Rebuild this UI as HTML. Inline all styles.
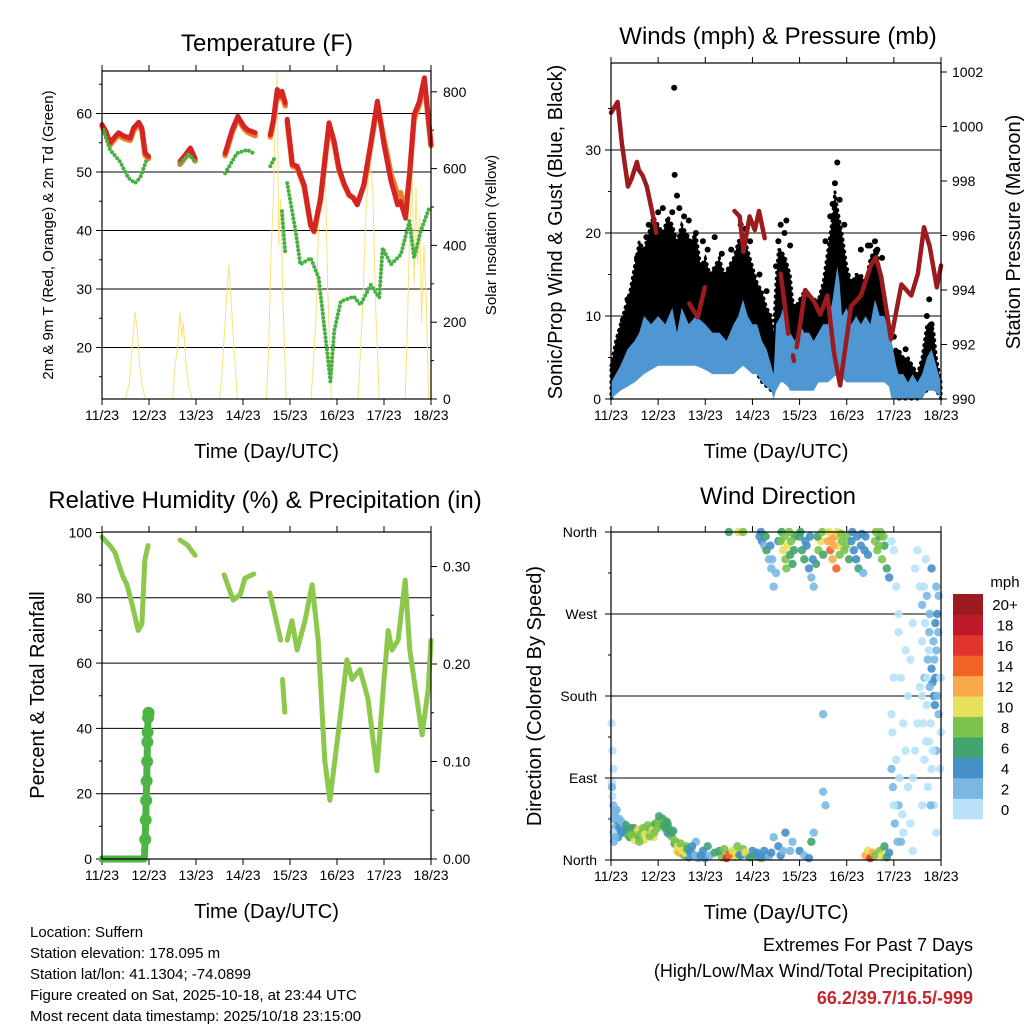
<!DOCTYPE html>
<html><head><meta charset="utf-8"><style>
html,body{margin:0;padding:0;background:#fff;}
svg{display:block;font-family:"Liberation Sans",Arial,sans-serif;}
</style></head><body>
<svg id="c" width="1024" height="1024" viewBox="0 0 1024 1024" xmlns="http://www.w3.org/2000/svg">
<rect width="1024" height="1024" fill="#fff"/>
<g id="layer"></g>
<text x="30" y="937" font-size="15">Location: Suffern</text>
<text x="30" y="958" font-size="15">Station elevation: 178.095 m</text>
<text x="30" y="979" font-size="15">Station lat/lon: 41.1304; -74.0899</text>
<text x="30" y="1000" font-size="15">Figure created on Sat, 2025-10-18, at 23:44 UTC</text>
<text x="30" y="1021" font-size="15">Most recent data timestamp: 2025/10/18 23:15:00</text>
<text x="973" y="951" font-size="18" text-anchor="end">Extremes For Past 7 Days</text>
<text x="973" y="977" font-size="18" text-anchor="end">(High/Low/Max Wind/Total Precipitation)</text>
<text x="973" y="1004" font-size="18" font-weight="bold" fill="#c4262e" text-anchor="end">66.2/39.7/16.5/-999</text>
</svg>
<script>
const dayLabels=["11/23","12/23","13/23","14/23","15/23","16/23","17/23","18/23"];
// Temperature (F)
const temp2m=[[[0,58.1],[0.08,57],[0.17,55],[0.25,55.8],[0.35,56.7],[0.45,56.2],[0.6,55.8],[0.67,57.5],[0.78,58.5],[0.85,57.5],[0.92,53.2],[0.99,52.7]],
[[1.66,51.8],[1.78,53],[1.88,54.1],[1.98,52.3]],
[[2.62,53.2],[2.77,57.2],[2.89,59.5],[3.02,57.8],[3.1,57.2],[3.26,56.7]],
[[3.58,56.4],[3.65,59],[3.73,64.1],[3.78,63],[3.83,63.8],[3.9,61.8]],
[[3.94,59],[4.05,51.3],[4.15,51],[4.3,47.8],[4.44,41],[4.51,39.9],[4.65,45.6],[4.83,58.4],[4.94,55.2],[5.04,50.7],[5.15,48],[5.26,46.1],[5.35,45.5],[5.43,44.4],[5.57,47.8],[5.7,54],[5.86,62.1],[6.0,54.7],[6.15,48.4],[6.22,46.5],[6.29,44.4],[6.35,45],[6.46,42.1],[6.55,50],[6.64,59.8],[6.75,62],[6.86,66.1],[7.0,54.7]]];
const temp9m=[[[0,57.8],[0.08,56.6],[0.17,54.6],[0.25,55.4],[0.35,56.3],[0.45,55.8],[0.6,55.4],[0.67,57.1],[0.78,58.1],[0.85,57.1],[0.92,52.8],[0.99,52.3]],
[[1.66,51.3],[1.78,52.6],[1.88,53.7],[1.98,51.9]],
[[2.62,52.8],[2.77,56.8],[2.89,59.1],[3.02,57.4],[3.1,56.8],[3.26,56.2]],
[[3.58,56],[3.65,58.6],[3.73,63.6],[3.78,62.6],[3.83,63.3],[3.9,61.3]],
[[3.94,58.6],[4.05,51],[4.15,50.7],[4.3,47.5],[4.44,40.8],[4.51,39.8],[4.65,45.3],[4.83,58],[4.94,54.8],[5.04,50.4],[5.15,47.8],[5.26,46],[5.35,45.6],[5.43,44.5],[5.57,47.6],[5.7,53.6],[5.86,61.5],[6.0,55.5],[6.15,49.5],[6.22,48],[6.29,46],[6.35,46.5],[6.46,43.2],[6.55,50],[6.64,59],[6.75,61.5],[6.86,65.5],[7.0,54.5]]];
const dewpoint=[[[0.03,57.2],[0.17,53.8],[0.38,51.8],[0.56,49],[0.7,48.1],[0.81,49],[0.95,52.1]],
[[1.66,51.5],[1.84,53],[1.98,51.8]],
[[2.62,49.8],[2.87,53.2],[3.09,53.8],[3.26,53]],
[[3.58,51],[3.69,52.7]],
[[3.83,43.3],[3.9,35.9]],
[[3.94,48.1],[4.12,39.9],[4.22,34.2],[4.44,35.3],[4.61,31.9],[4.79,19.3],[4.86,14.2],[4.94,22.8],[5.08,27.9],[5.36,28.7],[5.5,27.3],[5.72,30.7],[5.9,28.5],[5.97,37],[6.15,34.2],[6.36,35.9],[6.54,41.6],[6.64,35.3],[6.78,39.9],[6.96,43.8]]];
const solar=[[0,0],[0.5,0],[0.58,40],[0.65,150],[0.7,226],[0.75,180],[0.8,90],[0.85,40],[0.92,0],[1.5,0],[1.55,80],[1.62,150],[1.66,226],[1.7,160],[1.73,200],[1.78,100],[1.85,30],[1.92,0],[2.5,0],[2.55,60],[2.62,200],[2.67,300],[2.7,350],[2.75,250],[2.8,150],[2.88,0],[3.5,0],[3.55,150],[3.6,400],[3.64,500],[3.68,700],[3.73,855],[3.76,400],[3.8,520],[3.85,250],[3.92,0],[4.45,0],[4.55,200],[4.62,500],[4.7,640],[4.76,550],[4.8,300],[4.88,0],[5.45,0],[5.55,250],[5.62,500],[5.7,620],[5.76,550],[5.82,250],[5.9,0],[6.45,0],[6.5,200],[6.55,450],[6.6,580],[6.64,300],[6.68,550],[6.72,350],[6.76,480],[6.8,200],[6.85,400],[6.9,250],[6.95,0],[7,0]];
// Winds & pressure
const pressure=[[[0,1000.5],[0.14,1000.9],[0.23,999.4],[0.36,997.8],[0.44,998.1],[0.55,998.7],[0.59,998.4],[0.67,998.2],[0.76,997.8],[0.87,996.9],[0.96,996.1]],
[[1.66,993.5],[1.84,993],[1.99,994.1]],
[[2.62,996.9],[2.73,996.7],[2.81,995.4],[2.94,996.7],[3.05,996.2],[3.14,996.9],[3.26,995.9]],
[[3.6,994.6],[3.76,992.4]],
[[3.86,991.6],[3.88,991.4]],
[[3.94,991.9],[4.12,994],[4.3,993.6],[4.44,993.1],[4.59,993.8],[4.73,991.7],[4.86,990.5],[4.98,992],[5.09,993.4],[5.3,993.8],[5.51,994.9],[5.62,995.2],[5.73,994.5],[5.94,992.2],[6.16,994.2],[6.37,993.8],[6.51,994.6],[6.64,996.3],[6.76,995.6],[6.91,994.1],[7.0,994.9]]];
const windDays=[0,0.1,0.2,0.35,0.5,0.6,0.7,0.85,1.0,1.15,1.3,1.4,1.5,1.65,1.8,2.0,2.15,2.3,2.45,2.6,2.7,2.8,2.9,3.0,3.1,3.2,3.3,3.4,3.45,3.5,3.6,3.65,3.75,3.8,3.9,4.0,4.1,4.2,4.3,4.4,4.5,4.6,4.7,4.8,4.85,4.9,5.0,5.1,5.2,5.3,5.4,5.5,5.6,5.7,5.8,5.9,5.95,6.05,6.1,6.2,6.3,6.4,6.5,6.6,6.7,6.8,6.85,6.95,7.0];
const windLow=[0,0.5,1,1.5,2,2.5,3,3.5,4,4,4,4,4,4,4,3.5,3,3,3,3,3.5,4,3.5,3,3,2,1.5,1,0,1,2,2,1.5,1,1,1,1,1,1,2,2,2,2.5,3,3,2.5,2,2,2,2,2,2,2,2,2,1.5,0,0,0,0,0,0,0,0,1,1,1,0.5,0];
const windHigh=[2,3,4,6,7,8,10,9,10,9,11,8,11,9,10,9,8,8,7,9,10,12,10,9,9,7,6,4,3,9,10,11,8,8,7,9,8,8,7,8,9,9,12,16,14,10,11,9,10,9,10,9,12,10,10,8,7,4,3,3,2,3,2,3,5,6,5,3,2];
const gustDays=[0,0.1,0.2,0.3,0.4,0.5,0.6,0.7,0.8,0.9,1.0,1.1,1.2,1.3,1.4,1.5,1.6,1.7,1.8,1.9,2.0,2.1,2.2,2.3,2.4,2.5,2.6,2.7,2.8,2.9,3.0,3.1,3.2,3.3,3.4,3.45,3.5,3.55,3.6,3.7,3.8,3.85,3.9,4.0,4.1,4.2,4.3,4.4,4.5,4.6,4.7,4.75,4.8,4.9,5.0,5.1,5.2,5.3,5.4,5.5,5.6,5.65,5.7,5.8,5.9,5.95,6.0,6.1,6.2,6.3,6.4,6.5,6.6,6.7,6.8,6.85,6.9,7.0];
const gustLow=[0,1,2,2,3,4,5,6,7,6,6,7,7,7,6,6,6,6,6,5,4,4,5,5,5,6,6,7,6,5,4,3,2,1.5,1,1,2,4,4,3,3,2,2,3,3,3,3,3,3,4,6,8,8,6,5,4,4,4,4,5,5,5,5,4,2,1,0.5,0,0,0,0,0,0.5,1,2,2,1,0];
const gustHigh=[4,7,9,11,13,16,19,18,20,22,21,20,22,21,19,21,20,19,20,16,17,15,16,17,15,16,17,19,20,18,16,14,13,11,10,8,14,18,18,17,15,12,11,12,13,12,12,12,14,18,22,25,23,20,16,14,15,15,14,17,18,18,15,12,8,6,6,6,5,5,4,3,5,9,9,8,5,2];
const gustOutliers=[[1.34,37.5],[1.35,27],[1.55,22],[1.8,20],[4.8,28.5],[4.75,26],[3.6,21],[3.72,21.5],[5.5,18.5],[5.65,18],[6.75,12],[2.95,19],[1.1,23],[1.4,24.5],[0.8,21],[2.2,19.5],[3.8,18.5],[5.3,18],[1.45,23],[1.3,22.5],[0.75,19.5],[0.55,17],[0.35,12],[0.25,9.5],[1.65,21.5],[1.95,19],[2.05,18],[2.55,18],[2.75,21],[2.85,20.5],[3.5,16],[3.55,19],[3.68,20],[4.55,19],[4.65,22],[4.7,23.5],[4.85,24],[4.95,21],[5.45,18.5],[5.6,19],[5.75,17],[6.7,10],[6.8,9],[6.25,6],[6.0,7.5],[3.15,15],[3.3,13],[1.0,22.5],[0.9,21.5],[2.35,17.5]];
// RH & precip
const rh=[[[0,98.6],[0.17,96],[0.28,93.7],[0.43,87],[0.53,84],[0.64,78],[0.77,70],[0.85,72],[0.91,91.6],[0.98,96]],
[[1.66,97.7],[1.83,96],[1.98,93]],
[[2.6,87],[2.79,79.3],[2.94,81],[3.04,86],[3.23,87.3]],
[[3.57,81.5],[3.68,74.7],[3.8,67]],
[[3.84,55],[3.89,45]],
[[3.94,67],[4.04,73],[4.15,64],[4.32,73],[4.47,84],[4.6,67],[4.74,30],[4.85,18],[5.06,42.5],[5.21,61],[5.32,55],[5.49,58],[5.66,49],[5.85,27],[6.0,55],[6.09,70],[6.17,64],[6.3,67],[6.45,85.4],[6.55,64],[6.7,49],[6.81,38],[6.94,52],[7.0,67]]];
const precip=[[0,0],[0.2,0],[0.4,0],[0.6,0],[0.8,0],[0.9,0],[0.92,0.02],[0.93,0.04],[0.94,0.06],[0.95,0.08],[0.96,0.1],[0.965,0.12],[0.97,0.13],[0.98,0.145],[0.99,0.15]];
// Wind direction [day, degrees, speed]
const wdir=[[0.02,85,1],[0.03,70,1],[0.05,60,2],[0.08,50,2],[0.1,55,3],[0.12,45,3],[0.15,40,4],[0.18,45,3],[0.2,38,4],[0.22,42,3],[0.25,35,5],[0.28,30,6],[0.3,33,5],[0.35,28,8],[0.4,25,7],[0.45,30,9],[0.5,22,10],[0.55,28,8],[0.6,25,7],[0.65,30,9],[0.7,22,10],[0.75,33,8],[0.8,30,7],[0.85,35,6],[0.9,38,9],[0.95,40,7],[1.0,42,8],[1.05,38,6],[1.1,45,6],[1.15,35,6],[1.2,30,6],[1.25,28,5],[1.3,25,8],[1.35,18,7],[1.4,10,10],[1.45,8,12],[1.5,12,11],[1.55,5,8],[1.6,15,9],[1.65,3,4],[1.7,10,3],[1.75,5,4],[1.8,20,2],[1.85,2,3],[2.0,2,5],[2.05,15,7],[2.1,5,3],[2.35,3,9],[2.45,2,17],[2.55,8,7],[2.6,5,12],[2.65,3,10],[2.72,6,7],[0.01,150,0],[0.05,100,1],[0.03,120,1],[0.02,80,2],[0.4,35,5],[0.6,20,8],[0.9,25,10],[1.2,40,7],[0.15,25,4],[0.1,30,2],
[0.05,45,2],[0.08,35,3],[0.12,55,2],[0.18,35,4],[0.22,30,4],[0.26,40,3],[0.32,38,6],[0.38,32,7],[0.42,28,8],[0.48,35,7],[0.52,30,9],[0.58,33,10],[0.62,28,8],[0.68,35,8],[0.72,28,11],[0.78,38,8],[0.82,26,9],[0.88,32,10],[0.92,30,8],[0.98,35,9],[1.02,48,7],[1.08,40,8],[1.12,38,7],[1.18,42,6],[1.22,35,7],[1.28,30,6],[1.32,32,7],[1.38,20,9],[1.42,15,11],[1.48,18,9],[1.52,10,10],[1.58,8,11],[1.62,12,7],[1.68,8,5],[1.72,15,4],[1.78,5,3],[1.9,5,4],[1.95,10,4],[2.2,8,6],[2.3,10,7],[2.4,12,8],[2.5,6,14],[2.58,10,11],[2.68,15,8],[0.04,30,1],[0.06,20,2],[0.09,25,2],
[2.5,360,7],[2.7,360,10],[2.8,360,8],
[3.15,355,4],[3.2,350,5],[3.25,345,3],[3.3,340,6],[3.35,330,2],[3.4,320,2],[3.45,300,2],[3.5,315,2],[3.55,350,4],[3.18,360,4],[3.28,355,6],[3.38,345,4],[3.42,330,3],
[3.6,350,8],[3.65,340,10],[3.7,330,9],[3.72,320,8],[3.75,345,10],[3.8,335,7],[3.85,325,6],[3.9,355,6],[3.62,360,7],[3.68,355,9],[3.78,360,8],[3.82,350,9],[3.88,340,7],
[4.0,355,6],[4.05,340,7],[4.1,330,6],[4.15,345,4],[4.2,320,4],[4.25,310,3],[4.3,300,2],[4.35,325,6],[4.4,340,8],[4.45,350,10],[4.5,335,6],[4.02,360,7],[4.12,350,5],[4.22,355,5],[4.28,330,4],[4.38,355,7],[4.48,360,9],
[4.6,350,12],[4.65,340,14],[4.7,330,12],[4.75,355,13],[4.78,320,15],[4.82,345,11],[4.85,335,9],[4.9,350,8],[4.95,340,9],[5.0,355,8],[5.05,330,7],[4.62,360,11],[4.68,352,13],[4.72,345,12],[4.8,360,10],[4.88,358,9],[4.98,345,8],
[5.1,350,4],[5.15,340,5],[5.2,330,4],[5.25,320,6],[5.3,345,4],[5.35,315,3],[5.4,355,4],[5.45,335,5],[5.12,360,5],[5.22,355,4],[5.32,358,5],[5.38,340,4],
[5.6,350,8],[5.65,340,9],[5.7,355,7],[5.75,330,8],[5.8,345,6],[5.85,320,6],[5.9,310,4],[5.62,360,8],[5.72,360,9],[5.78,355,8],[5.68,345,8],
[5.95,350,1],[6.0,340,1],[6.05,300,1],[6.1,250,0],[6.15,200,1],[6.2,150,1],[6.25,120,1],[6.3,80,1],[6.35,40,1],[6.4,10,1],[6.1,60,2],[6.15,20,3],[6.2,30,1],[6.3,180,0],[6.35,220,1],[6.4,260,1],[6.45,320,1],[6.5,340,0],[6.55,300,1],[6.6,240,1],[6.65,200,2],[6.7,170,1],[6.75,130,1],[6.8,100,1],[6.85,60,1],[6.9,30,1],[6.95,160,2],[7.0,200,1],[6.6,280,2],[6.7,290,3],[6.75,250,3],[6.8,210,4],[6.85,180,4],[6.87,170,5],[6.9,230,3],[6.95,290,2],[6.8,320,5],[6.72,220,2],[6.78,150,1],[6.65,110,1],[6.9,120,2],[7.0,140,1],[6.1,270,0],[6.0,200,1],[6.05,110,0],[5.95,100,2],[5.98,80,2],[6.25,230,1],[6.55,190,1],[6.45,120,1],[6.82,195,4],[6.88,200,5],[6.84,240,3],[6.76,270,2],[6.92,180,3],[6.7,200,1],[6.5,150,0],[6.6,60,1],[6.4,90,1],
[5.95,160,1],[5.97,140,0],[6.0,60,1],[6.02,40,2],[6.08,20,2],[6.12,90,1],[6.18,50,1],[6.6,180,0],[6.62,150,1],[6.68,130,0],[6.72,80,1],[6.78,60,2],[6.82,120,1],[6.86,220,3],[6.88,260,4],[6.9,300,3],[6.92,270,4],[6.94,250,2],[6.98,100,1],[6.98,200,0],[6.76,190,2],[6.74,230,1],[6.66,260,1],[6.64,300,1],[6.68,330,1],
[4.0,10,4],[4.1,5,3],[4.2,2,4],[4.25,20,6],[4.3,30,3],[5.4,5,12],[5.45,10,10],[5.5,2,17],[5.55,8,12],[5.6,5,8],[5.7,10,9],[5.75,5,10],[5.8,15,7],[5.85,3,6],[5.9,8,4],[3.7,30,4],[3.8,10,3],[3.85,20,2],[2.75,5,4],[2.9,5,5],[3.0,10,4],[3.2,2,8],[3.3,5,5],[4.5,75,2],[4.5,160,2],[4.55,60,2],
[2.8,12,8],[2.85,8,10],[2.95,3,7],[3.05,5,6],[3.1,8,5],[3.15,3,4],[3.25,10,4],[3.35,4,3],[3.4,8,4],[3.45,25,2],[3.55,15,4],[3.6,5,4],[3.65,10,3]];
const speedBins=["0","2","4","6","8","10","12","14","16","18","20+"];
const binColors=["#b8e2f8","#7ab8e3","#4590c8","#42a46e","#7cc34d","#e7e05a","#f9a94a","#f26328","#e0342c","#c0192a","#9b1b1e"];

const NS="http://www.w3.org/2000/svg";
const layer=document.getElementById('layer');
function mk(tag,attrs,parent){const e=document.createElementNS(NS,tag);for(const k in attrs)e.setAttribute(k,attrs[k]);(parent||layer).appendChild(e);return e;}
function txt(x,y,s,size,anchor,parent,rot){const e=mk('text',{x:x,y:y,'font-size':size,'text-anchor':anchor||'middle'},parent);if(rot)e.setAttribute('transform','rotate(-90 '+x+' '+y+')');e.textContent=s;return e;}
function poly(pts,fx,fy,stroke,w,parent){const d=pts.map((p,i)=>(i?'L':'M')+fx(p[0]).toFixed(1)+' '+fy(p[1]).toFixed(1)).join(' ');return mk('path',{d:d,fill:'none',stroke:stroke,'stroke-width':w,'stroke-linejoin':'round','stroke-linecap':'round'},parent);}
function band(days,lo,hi,fx,fy,fill,parent){let d='M';for(let i=0;i<days.length;i++)d+=(i?'L':'')+fx(days[i]).toFixed(1)+' '+fy(hi[i]).toFixed(1)+' ';for(let i=days.length-1;i>=0;i--)d+='L'+fx(days[i]).toFixed(1)+' '+fy(lo[i]).toFixed(1)+' ';d+='Z';return mk('path',{d:d,fill:fill},parent);}

function frame(g,L,T,R,B){
  const x=d=>L+(R-L)*d/7;
  dayLabels.forEach((lab,i)=>{
    const xx=x(i);
    const tk=mk('line',{x1:xx,x2:xx,y1:B,y2:B+6,stroke:'#000','stroke-width':1},g);
    
    
    mk('line',{x1:xx,x2:xx,y1:T,y2:T-6,stroke:'#000','stroke-width':1},g);
    const t=txt(xx,B+21,lab,14,'middle',g);
    
    
  });
  const xt=txt((L+R)/2,B+59,'Time (Day/UTC)',20,'middle',g);
  
  
  return x;
}
function box(g,L,T,R,B){const r=mk('rect',{x:L,y:T,width:R-L,height:B-T,fill:'none',stroke:'#000','stroke-width':1.2},g);}
function hgrid(g,L,R,y){mk('line',{x1:L,x2:R,y1:y,y2:y,stroke:'#000','stroke-width':1},g);}
function ytick(g,x,y,len){mk('line',{x1:x,x2:x+len,y1:y,y2:y,stroke:'#000','stroke-width':1},g);}

// ---------- Panel 1: Temperature ----------
(function(){
  const g=mk('g',{});
  
  
  const L=102,T=71,R=431,B=399;
  const x=frame(g,L,T,R,B);
  const y=v=>172-(v-50)*5.85;
  const ys=v=>399-v*0.384;
  [20,30,40,50,60].forEach(v=>{hgrid(g,L,R,y(v));ytick(g,L,y(v),-6);txt(L-10,y(v)+5,String(v),14,'end',g);});
  [15,25,35,45,55,65].forEach(v=>ytick(g,L,y(v),-3));
  [0,200,400,600,800].forEach(v=>{ytick(g,R,ys(v),6);txt(R+12,ys(v)+5,String(v),14,'start',g);});
  [100,300,500,700].forEach(v=>ytick(g,R,ys(v),3));
  const sp=poly(solar,x,ys,'#f9e27a',1,g);
  
  
  temp9m.forEach(s=>{const p=poly(s,x,y,'#f07f2a',5.5,g);});
  temp2m.forEach(s=>{const p=poly(s,x,y,'#d42424',5,g);});
  dewpoint.forEach(s=>{const p=poly(s,x,y,'#49b043',4,g);p.setAttribute('stroke-dasharray','0 4');});
  box(g,L,T,R,B);
  const t=txt(267,51,'Temperature (F)',24,'middle',g);
  const yl=txt(53,235,'2m & 9m T (Red, Orange) & 2m Td (Green)',15,'middle',g,true);
  const yr=txt(496,235,'Solar Insolation (Yellow)',15,'middle',g,true);
})();

// ---------- Panel 2: Winds & Pressure ----------
(function(){
  const g=mk('g',{});
  
  
  const L=611,T=63,R=941,B=399;
  const x=frame(g,L,T,R,B);
  const y=v=>399-v*8.3;
  const yp=v=>399-(v-990)*27.25;
  [10,20,30].forEach(v=>hgrid(g,L,R,y(v)));
  [0,10,20,30].forEach(v=>{ytick(g,L,y(v),-6);txt(L-10,y(v)+5,String(v),14,'end',g);});
  [5,15,25,35].forEach(v=>ytick(g,L,y(v),-3));
  [990,992,994,996,998,1000,1002].forEach(v=>{ytick(g,R,yp(v),6);txt(R+11,yp(v)+5,String(v),14,'start',g);});
  const gb=band(gustDays,gustLow,gustHigh,x,y,'#000',g);
  
  
  gb.setAttribute('stroke','#000');
  gb.setAttribute('stroke-width','3');
  gb.setAttribute('stroke-dasharray','1 5');
  gb.setAttribute('stroke-linecap','round');
  gustOutliers.forEach(p=>{const c=mk('circle',{cx:x(p[0]),cy:y(p[1]),r:3,fill:'#000'},g);});
  const wb=band(windDays,windLow,windHigh,x,y,'#4f97d3',g);
  
  
  pressure.forEach(s=>{const p=poly(s,x,yp,'#9b1b1e',4.5,g);});
  box(g,L,T,R,B);
  const t=txt(778,44,'Winds (mph) & Pressure (mb)',24,'middle',g);
  const yl=txt(562,232,'Sonic/Prop Wind & Gust (Blue, Black)',20,'middle',g,true);
  const yr=txt(1020,232,'Station Pressure (Maroon)',20,'middle',g,true);
})();

// ---------- Panel 3: RH & Precip ----------
(function(){
  const g=mk('g',{});
  
  
  const L=102,T=532,R=431,B=859;
  const x=frame(g,L,T,R,B);
  const y=v=>859-v*3.265;
  const yp=v=>859-v*975;
  [20,40,60,80].forEach(v=>hgrid(g,L,R,y(v)));
  [0,20,40,60,80,100].forEach(v=>{ytick(g,L,y(v),-6);txt(L-10,y(v)+5,String(v),14,'end',g);});
  [10,30,50,70,90].forEach(v=>ytick(g,L,y(v),-3));
  [[0,'0.00'],[0.1,'0.10'],[0.2,'0.20'],[0.3,'0.30']].forEach(a=>{ytick(g,R,yp(a[0]),6);txt(R+12,yp(a[0])+5,a[1],14,'start',g);});
  [0.05,0.15,0.25].forEach(v=>ytick(g,R,yp(v),3));
  rh.forEach(s=>{const p=poly(s,x,y,'#8cc84b',5,g);});
  const pl=poly(precip,x,yp,'#4cb543',7,g);
  
  
  precip.forEach(p=>{if(p[1]>0){const c=mk('circle',{cx:x(p[0]),cy:yp(p[1]),r:6,fill:'#4cb543'},g);}});
  box(g,L,T,R,B);
  const t=txt(265,508,'Relative Humidity (%) & Precipitation (in)',24,'middle',g);
  const yl=txt(44,695,'Percent & Total Rainfall',20,'middle',g,true);
})();

// ---------- Panel 4: Wind direction ----------
(function(){
  const g=mk('g',{});
  
  
  const L=611,T=532,R=941,B=860;
  const x=frame(g,L,T,R,B);
  const y=v=>860-v*(328/360);
  [['North',0],['East',90],['South',180],['West',270],['North',360]].forEach(a=>{if(a[1]>0&&a[1]<360)hgrid(g,L,R,y(a[1]));ytick(g,L,y(a[1]),-6);txt(L-14,y(a[1])+5,a[0],14,'end',g);});
  [45,135,225,315].forEach(v=>ytick(g,L,y(v),-3));
  const bin=s=>Math.min(10,Math.floor(s/2));
  wdir.forEach(p=>{const c=mk('circle',{cx:x(p[0]),cy:y(p[1]),r:4.2,fill:binColors[bin(p[2])],'fill-opacity':0.9},g);});
  box(g,L,T,R,B);
  const t=txt(778,504,'Wind Direction',24,'middle',g);
  const yl=txt(541,696,'Direction (Colored By Speed)',20,'middle',g,true);
  const cb=mk('g',{},g);
  
  
  const h=225/11;
  for(let i=0;i<11;i++){
    const yy=594+(10-i)*h;
    const r=mk('rect',{x:953,y:yy,width:30,height:h+0.3,fill:binColors[i]},cb);
    
    
    const lt=txt(1005,yy+h/2+6,speedBins[i],15,'middle',cb);
    
    
  }
  const m=txt(1005,587,'mph',15,'middle',cb);
  
  
})();
</script>
</body></html>
